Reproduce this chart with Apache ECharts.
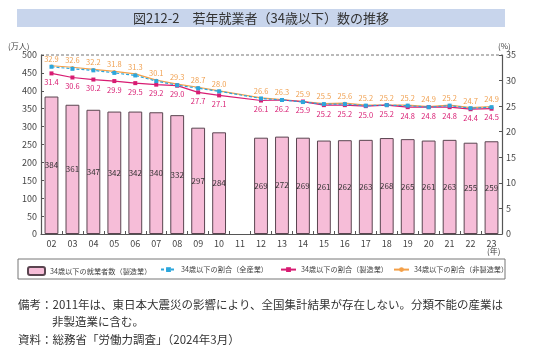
<!DOCTYPE html>
<html><head><meta charset="utf-8">
<script src="https://cdn.jsdelivr.net/npm/echarts@6/dist/echarts.min.js"></script>
<style>html,body{margin:0;padding:0;background:#fff}#c{width:536px;height:358px}</style>
</head><body><div id="c"></div>
<script>
const years = ['02','03','04','05','06','07','08','09','10','11','12','13','14','15','16','17','18','19','20','21','22','23'];
const workersMfg = [384,361,347,342,342,340,332,297,284,null,269,272,269,261,262,263,268,265,261,263,255,259];
const shareAll = [32.7,32.3,32.0,31.5,31.0,29.9,29.1,28.5,27.9,null,26.5,26.2,25.8,25.4,25.4,25.1,25.2,25.1,24.8,25.1,24.6,24.8];
const shareMfg = [31.4,30.6,30.2,29.9,29.5,29.2,29.0,27.7,27.1,null,26.1,26.2,25.9,25.2,25.2,25.0,25.2,24.8,24.8,24.8,24.4,24.5];
const shareNonMfg = [32.9,32.6,32.2,31.8,31.3,30.1,29.3,28.7,28.0,null,26.6,26.3,25.9,25.5,25.6,25.2,25.2,25.2,24.9,25.2,24.7,24.9];
const leftTicks = [0,500,50];
const rightTicks = [0,35,5];
const names = ['34歳以下の就業者数（製造業）','34歳以下の割合（全産業）','34歳以下の割合（製造業）','34歳以下の割合（非製造業）'];

const FONT = '"Noto Sans CJK JP", "Noto Sans", sans-serif';
const legendPos = [[22,17],[155,15],[275,15],[388,15]];
const chart = echarts.init(document.getElementById('c'));
chart.setOption({
  animation:false,
  textStyle:{fontFamily:FONT},
  graphic:[
    {type:'rect',shape:{x:17,y:9,width:488,height:18},style:{fill:'#c8d5ec'}},
    {type:'text',x:261,y:18,style:{text:'図212-2　若年就業者（34歳以下）数の推移',font:'13px '+FONT,fill:'#333',align:'center',verticalAlign:'middle'}},
    {type:'text',x:8,y:42,style:{text:'(万人)',font:'8px '+FONT,fill:'#444'}},
    {type:'text',x:498,y:42,style:{text:'(%)',font:'8px '+FONT,fill:'#444'}},
    {type:'text',x:487,y:247,style:{text:'(年)',font:'8px '+FONT,fill:'#444'}},
    {type:'line',shape:{x1:41,y1:55,x2:502,y2:55},style:{stroke:'#777',lineWidth:1.2,lineDash:[3,2]}},
    {type:'rect',shape:{x:18,y:259,width:487,height:20},style:{fill:'none',stroke:'#777',lineWidth:1}},
    {type:'text',x:18,y:299,style:{text:'備考：2011年は、東日本大震災の影響により、全国集計結果が存在しない。分類不能の産業は',font:'11.5px '+FONT,fill:'#333'}},
    {type:'text',x:52,y:316,style:{text:'非製造業に含む。',font:'11.5px '+FONT,fill:'#333'}},
    {type:'text',x:18,y:334,style:{text:'資料：総務省「労働力調査」（2024年3月）',font:'11.5px '+FONT,fill:'#333'}}
  ],
  legend: names.map((n,i)=>({
    top:261,left:legendPos[i][0],itemWidth:legendPos[i][1],itemHeight:i===0?8:6,itemGap:4,
    textStyle:{fontSize:7.2,color:'#444',fontFamily:FONT},
    data:[n]
  })),
  grid:{left:41,right:34,top:55,bottom:124},
  xAxis:{
    type:'category',data:years,boundaryGap:true,
    axisLine:{lineStyle:{color:'#555',width:1.2}},
    axisTick:{show:true,inside:true,length:3,alignWithLabel:false,lineStyle:{color:'#555'}},
    axisLabel:{fontSize:9,color:'#444',margin:5,interval:0}
  },
  yAxis:[
    {type:'value',min:leftTicks[0],max:leftTicks[1],interval:leftTicks[2],
     axisLine:{show:true,lineStyle:{color:'#555',width:1.2}},
     axisTick:{show:true,inside:true,length:3,lineStyle:{color:'#555'}},
     splitLine:{show:false},axisLabel:{fontSize:9,color:'#444',margin:4}},
    {type:'value',min:rightTicks[0],max:rightTicks[1],interval:rightTicks[2],position:'right',
     axisLine:{show:true,lineStyle:{color:'#555',width:1.2}},
     axisTick:{show:true,inside:true,length:3,lineStyle:{color:'#555'}},
     splitLine:{show:false},axisLabel:{fontSize:9,color:'#444',margin:4}}
  ],
  series:[
    {name:names[0],type:'bar',data:workersMfg,barWidth:'66%',
     itemStyle:{color:'#f6bdd8',borderColor:'#5a4550',borderWidth:1},
     label:{show:true,position:'inside',fontSize:8,color:'#333'}},
    {name:names[1],type:'line',yAxisIndex:1,data:shareAll,connectNulls:true,
     symbol:'rect',symbolSize:4,
     lineStyle:{color:'#2ca6dc',width:1.2,type:[3,2]},itemStyle:{color:'#2ca6dc'},z:4},
    {name:names[2],type:'line',yAxisIndex:1,data:shareMfg,connectNulls:true,
     symbol:'rect',symbolSize:4,
     lineStyle:{color:'#d81b72',width:1.2},itemStyle:{color:'#d81b72'},
     label:{show:true,position:'bottom',distance:3,fontSize:7.5,color:'#d81b72',formatter:p=>p.value.toFixed(1)},z:3},
    {name:names[3],type:'line',yAxisIndex:1,data:shareNonMfg,connectNulls:true,
     symbol:'circle',symbolSize:2.5,
     lineStyle:{color:'#f4a048',width:1.2},itemStyle:{color:'#f4a048'},
     label:{show:true,position:'top',distance:2,fontSize:7.5,color:'#f0a050',formatter:p=>p.value.toFixed(1)},z:2}
  ]
});
</script></body></html>
